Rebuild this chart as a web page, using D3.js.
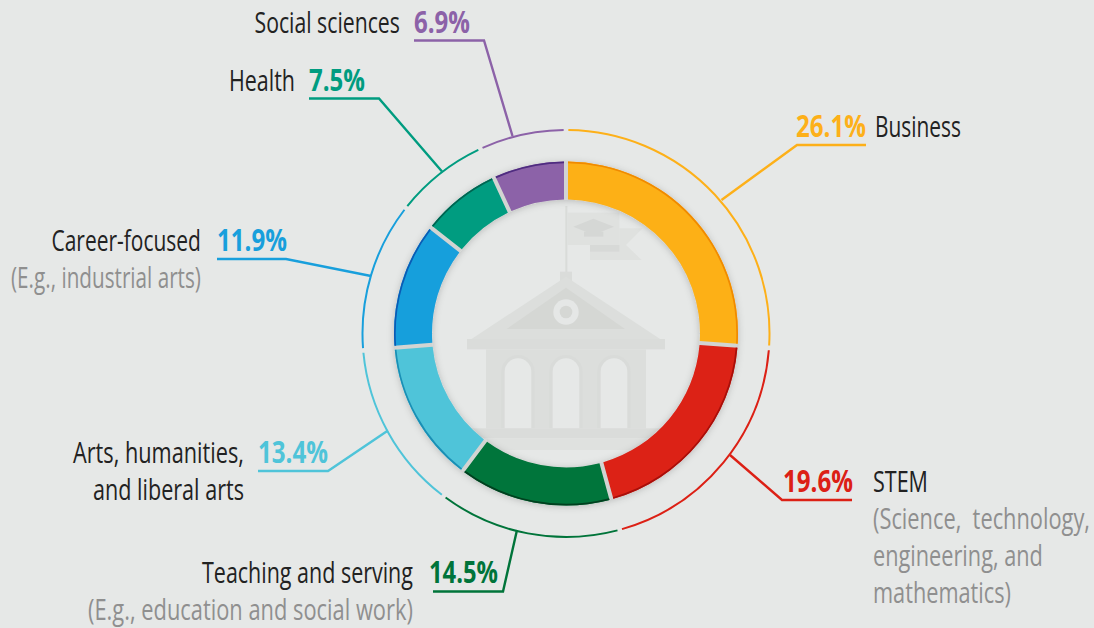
<!DOCTYPE html>
<html><head><meta charset="utf-8">
<script src="https://cdn.jsdelivr.net/npm/d3@7"></script>
<style>html,body{margin:0;padding:0;background:#e6e8e7;overflow:hidden}svg{display:block}</style>
</head><body><svg id="c" width="1094" height="628"></svg>
<script>
// Data
const categories = ["Business","STEM","Teaching and serving","Arts, humanities, and liberal arts","Career-focused","Health","Social sciences"];
const shares = [26.1,19.6,14.5,13.4,11.9,7.5,6.9];
const fills = ["#fdb019","#dc2015","#00743a","#4fc4d9","#189fdc","#009c80","#8c62a8"];
const edges = ["#f08a00","#a80f0a","#00401f","#1a8fb5","#0a5bb5","#006450","#4f2c80"];

// Layout of the callouts
const pctBoxes = [[796,866,137],[783,853,492],[429,498,582.5],[258,328,463],[217,287,251],[309,365,91],[414,470,33]];
const leaders = [
  [[866,145],[797,145],[721.5,200]],
  [[852,500],[782,500],[730,455]],
  [[433,591.5],[503,591.5],[517,530]],
  [[258,471],[328,471],[388,430.5]],
  [[217,259],[286,259],[371,276]],
  [[309,98.5],[379,98.5],[442,171.5]],
  [[414,40.5],[484,40.5],[512.5,136]]
];
const nameLines = [
  ["Business",875,961,137],["STEM",873,928,492],["Teaching and serving",202,413,582.5],
  ["Arts, humanities,",73,244,463],["and liberal arts",93,244,500],["Career-focused",51.5,201,251],
  ["Health",229,295,91],["Social sciences",254.5,400,33]
];
const noteLines = [
  ["(Science,\u00a0 technology,",873,1090,529],["engineering, and",873,1043,566],["mathematics)",873,1011,603],
  ["(E.g., education and social work)",88,413,619.5],["(E.g., industrial arts)",11,201,288]
];

const cx=566, cy=333.5, rOuter=172, rInner=134, rGuide=203.5;
const svg=d3.select("#c");
svg.append("rect").attr("width",1094).attr("height",628).attr("fill","#e6e8e7");
const defs=svg.append("defs");
const f=defs.append("filter").attr("id","sh").attr("x","-20%").attr("y","-20%").attr("width","140%").attr("height","140%");
f.append("feDropShadow").attr("dx",0).attr("dy",1).attr("stdDeviation",3.5).attr("flood-color","#000").attr("flood-opacity",.2);
defs.append("clipPath").attr("id","in").append("circle").attr("cx",cx).attr("cy",cy).attr("r",rInner);

// Building watermark (decoration, inside the ring)
const bx=X=>360+X/3, by=Y=>120+Y/3;
const wm=svg.append("g").attr("clip-path","url(#in)");
const R=(a,b,c,d,col)=>wm.append("rect").attr("x",bx(a)).attr("y",by(b)).attr("width",(c-a)/3).attr("height",(d-b)/3).attr("fill",col);
const P=(pts,col)=>wm.append("polygon").attr("points",pts.map(p=>[bx(p[0]),by(p[1])].join(",")).join(" ")).attr("fill",col);
R(616,258,622,460,"#d9dbd9");
P([[778,325],[848,325],[798,375],[845,420],[690,420],[690,375],[778,375]],"#dfe1df");
R(690,375,778,395,"#d7d9d7");
R(622,278,778,375,"#dfe1df");
P([[700,296],[762,320],[700,344],[640,320]],"#d5d7d5");
R(672,335,730,350,"#d5d7d5");
R(600,455,636,485,"#dadcda");
P([[618,470],[905,660],[330,660]],"#dcdedc");
P([[618,503],[795,627],[440,627]],"#d5d7d4");
wm.append("circle").attr("cx",bx(618)).attr("cy",by(576)).attr("r",12.7).attr("fill","#e5e7e6");
wm.append("circle").attr("cx",bx(618)).attr("cy",by(576)).attr("r",6.3).attr("fill","#d5d7d4");
R(321,657,915,688,"#dadcda");
R(378,688,858,925,"#dcdedc");
[474,618,762].forEach(c=>{
  const arch=(hw,top,col)=>wm.append("path").attr("fill",col)
    .attr("d",`M${bx(c-hw)},${by(925)}V${by(top+hw)}A${hw/3},${hw/3} 0 0 1 ${bx(c+hw)},${by(top+hw)}V${by(925)}Z`);
  arch(50,705,"#d9dbd9");
  arch(40,715,"#e6e8e7");
});
R(300,925,940,955,"#dadcda");
R(380,955,860,990,"#dfe1df");

// Ring
const pie=d3.pie().value(d=>d).sort(null);
const arcs=pie(shares);
const ring=svg.append("g").attr("transform",`translate(${cx},${cy})`);
const shadowed=ring.append("g").attr("filter","url(#sh)");
shadowed.append("path").attr("fill","#d2d4d2")
  .attr("d",d3.arc().innerRadius(rInner).outerRadius(rOuter-.5)({startAngle:0,endAngle:2*Math.PI}));
const segArc=d3.arc().innerRadius(rInner).outerRadius(rOuter).padAngle(.02).padRadius(200);
const edgeArc=d3.arc().innerRadius(rOuter-1.7).outerRadius(rOuter).padAngle(.02).padRadius(200);
shadowed.selectAll("path.seg").data(arcs).join("path").attr("class","seg").attr("d",segArc).attr("fill",(d,i)=>fills[i]);
ring.selectAll("path.edge").data(arcs).join("path").attr("class","edge").attr("d",edgeArc).attr("fill",(d,i)=>edges[i]);

// Guide arcs
const guide=d3.arc().innerRadius(rGuide).outerRadius(rGuide);
const gap=.0115;
ring.selectAll("path.guide").data(arcs).join("path").attr("class","guide")
  .attr("d",d=>guide({startAngle:d.startAngle+gap,endAngle:d.endAngle-gap}))
  .attr("fill","none").attr("stroke",(d,i)=>fills[i]).attr("stroke-width",2);

// Leaders
const line=d3.line();
svg.selectAll("path.leader").data(leaders).join("path").attr("class","leader")
  .attr("d",d=>line(d)).attr("fill","none").attr("stroke",(d,i)=>fills[i]).attr("stroke-width",2.4);

// Text: real text, squeezed horizontally to the condensed widths of the original
function fit(x0,x1,y,text,weight,col){
  const t=svg.append("text").attr("font-family","'Open Sans',sans-serif").attr("font-size",29.5)
    .attr("font-weight",weight).attr("fill",col).style("white-space","pre").text(text);
  const len=t.node().getComputedTextLength();
  t.attr("transform",`translate(${x0},${y}) scale(${(x1-x0)/len},1)`);
}
shares.forEach((v,i)=>{const b=pctBoxes[i];fit(b[0],b[1],b[2],d3.format(".1f")(v)+"%",700,fills[i]);});
nameLines.forEach(l=>fit(l[1],l[2],l[3],l[0],500,"#222"));
noteLines.forEach(l=>fit(l[1],l[2],l[3],l[0],500,"#8f8f8f"));
</script></body></html>
